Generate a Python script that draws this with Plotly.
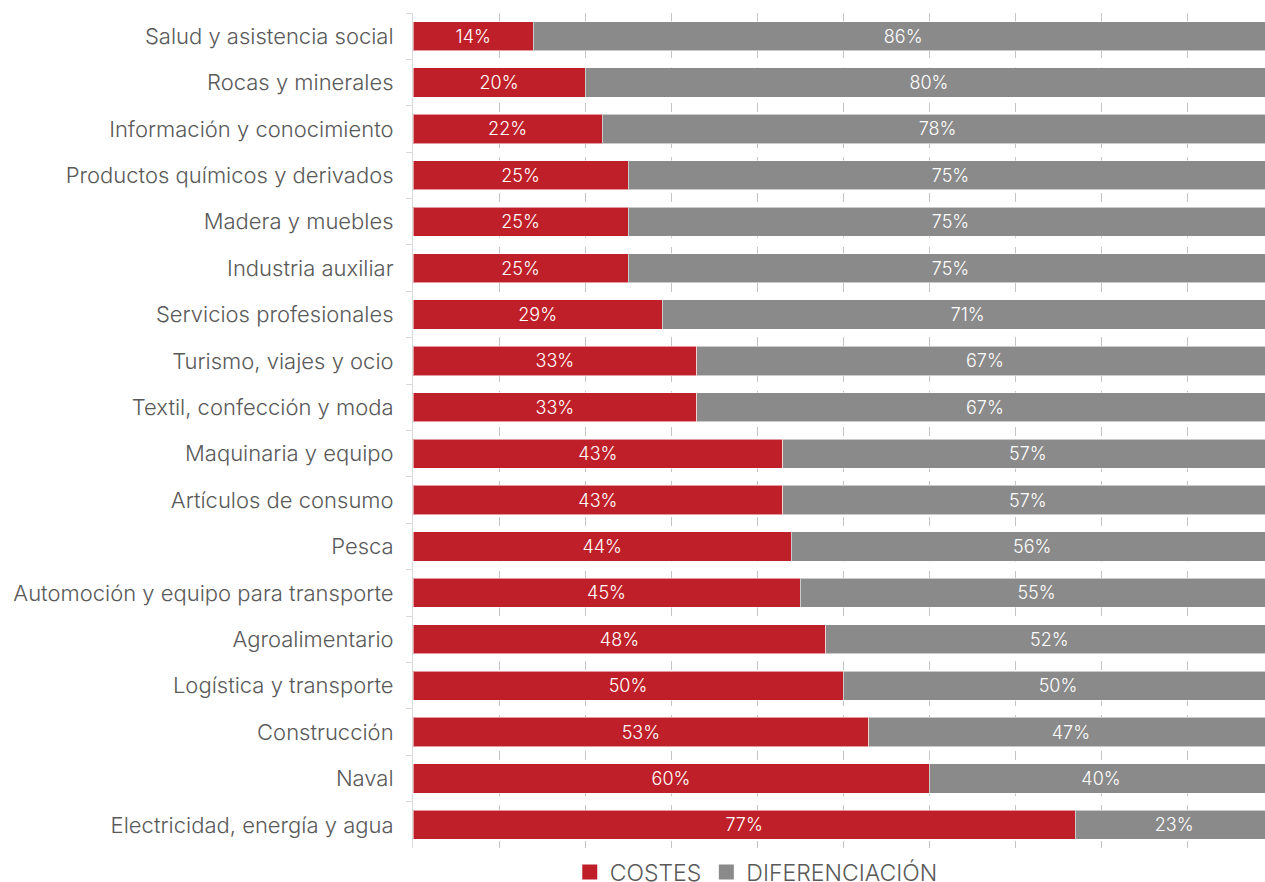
import plotly.graph_objects as go

# Sectors (top to bottom) and share of companies by competitive strategy (%)
sectores = [
    "Salud y asistencia social",
    "Rocas y minerales",
    "Información y conocimiento",
    "Productos químicos y derivados",
    "Madera y muebles",
    "Industria auxiliar",
    "Servicios profesionales",
    "Turismo, viajes y ocio",
    "Textil, confección y moda",
    "Maquinaria y equipo",
    "Artículos de consumo",
    "Pesca",
    "Automoción y equipo para transporte",
    "Agroalimentario",
    "Logística y transporte",
    "Construcción",
    "Naval",
    "Electricidad, energía y agua",
]
costes = [14, 20, 22, 25, 25, 25, 29, 33, 33, 43, 43, 44, 45, 48, 50, 53, 60, 77]
diferenciacion = [86, 80, 78, 75, 75, 75, 71, 67, 67, 57, 57, 56, 55, 52, 50, 47, 40, 23]

ROJO = "#BF1F28"
GRIS = "#8A8A8A"
TEXTO = "#595959"
FUENTE = "Inter, Open Sans, Liberation Sans, Arial, sans-serif"

fig = go.Figure()
series = [("COSTES", costes, ROJO), ("DIFERENCIACIÓN", diferenciacion, GRIS)]
for nombre, valores, color in series:
    fig.add_trace(go.Bar(
        name=nombre,
        y=sectores,
        x=valores,
        orientation="h",
        marker=dict(color=color, line=dict(color="rgba(255,255,255,0.55)", width=1)),
        texttemplate="%{x}%",
        textposition="inside",
        insidetextanchor="middle",
        textangle=0,
        textfont=dict(family=FUENTE, size=18, color="white", weight=300),
        hoverinfo="skip",
        showlegend=False,
    ))

# Legend entries with larger square swatches
for nombre, _, color in series:
    fig.add_trace(go.Scatter(
        name=nombre,
        x=[None], y=[None],
        mode="markers",
        marker=dict(symbol="square", size=15, color=color),
        showlegend=True,
        hoverinfo="skip",
    ))

fig.update_layout(
    barmode="stack",
    bargap=0.37,
    width=1265,
    height=882,
    margin=dict(l=413, r=0, t=13, b=34, autoexpand=False),
    plot_bgcolor="white",
    paper_bgcolor="white",
    font=dict(family=FUENTE, size=22, color=TEXTO, weight=300),
    legend=dict(
        orientation="h",
        x=0.184, xanchor="left",
        y=-0.0287, yanchor="middle",
        font=dict(family=FUENTE, size=23, color=TEXTO, weight=300),
        traceorder="normal",
        bgcolor="rgba(0,0,0,0)",
    ),
    xaxis=dict(
        range=[0, 99.07],
        dtick=10,
        showgrid=True,
        gridcolor="#C4C4C4",
        griddash="dash",
        gridwidth=1,
        showticklabels=False,
        zeroline=False,
        showline=False,
        fixedrange=True,
    ),
    yaxis=dict(
        autorange="reversed",
        showline=True,
        linecolor="#D9D9D9",
        linewidth=1,
        ticks="outside",
        tickson="boundaries",
        ticklen=6,
        tickcolor="#D9D9D9",
        ticklabelstandoff=14,
        tickfont=dict(family=FUENTE, size=22, color=TEXTO, weight=300),
        showgrid=False,
        fixedrange=True,
    ),
)

fig.write_html("out.html")
